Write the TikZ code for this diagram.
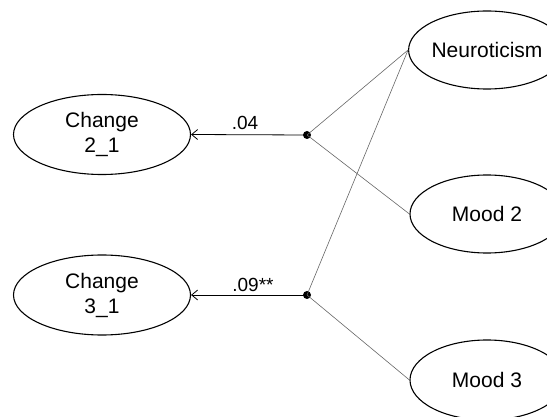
\documentclass[tikz,border=0pt]{standalone}
\usepackage{fontspec}
\setmainfont{Liberation Sans}
\usetikzlibrary{shapes.geometric,arrows.meta}
\begin{document}
\begin{tikzpicture}[x=1pt,y=-1pt,
  latent/.style={draw=black,line width=1.1pt,ellipse,inner sep=0pt,
    minimum width=154pt,minimum height=78pt,font=\fontsize{21}{25}\selectfont,align=center},
  outcome/.style={latent,minimum width=177pt,minimum height=80pt},
  junction/.style={circle,fill=black,inner sep=0pt,minimum size=8pt},
  link/.style={draw=black!60,line width=0.6pt},
  path arrow/.style={draw=black,line width=0.8pt,-{Straight Barb[length=6pt,width=10pt]}},
  coef/.style={font=\fontsize{19}{22}\selectfont,inner sep=0pt}]
  \useasboundingbox (0,0) rectangle (547,417);
  \clip (0,0) rectangle (547,417);

  \node[outcome] (c21) at (102,134.5) {Change\\2\_1};
  \node[outcome] (c31) at (102,295) {Change\\3\_1};
  \node[latent] (neu) at (487,50) {Neuroticism};
  \node[latent] (m2) at (487,214) {Mood 2};
  \node[latent,minimum height=80pt] (m3) at (487,380) {Mood 3};

  \node[junction] (j1) at (307,135) {};
  \node[junction] (j2) at (307,295) {};

  \draw[link] (neu.west) -- (j1.center);
  \draw[link] (neu.west) -- (j2.center);
  \draw[link] (m2.west) -- (j1.center);
  \draw[link] (m3.west) -- (j2.center);

  \draw[path arrow] (j1.center) -- (c21.east);
  \draw[path arrow] (j2.center) -- (c31.east);

  \node[coef] (b1) at (245,123) {.04};
  \node[coef] (b2) at (253,285) {.09**};
\end{tikzpicture}
\end{document}
